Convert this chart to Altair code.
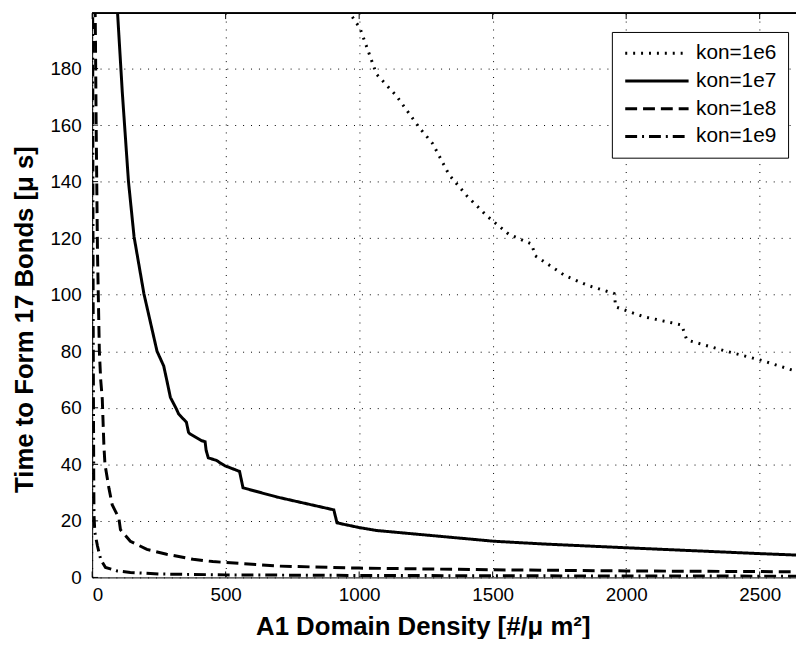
import altair as alt
import pandas as pd

series = ["kon=1e6", "kon=1e7", "kon=1e8", "kon=1e9"]

x_1e6 = [940, 965, 1003, 1065, 1139, 1226, 1275, 1337, 1405, 1479, 1560, 1646, 1659,
         1770, 1856, 1955, 1961, 2066, 2208, 2227, 2375, 2499, 2640]
y_1e6 = [206, 199.6, 194.3, 178, 170.4, 159, 153.5, 142.4, 134.8, 127.8, 121.4, 117.9,
         113.8, 106.8, 103.3, 100.4, 95.7, 92.2, 89.3, 84, 80, 77, 72.8]

x_1e7 = [90, 95, 113, 136, 157, 194, 243, 268, 279, 293, 316, 324, 353, 361, 366, 409,
         423, 427, 435, 465, 497, 552, 565, 694, 769, 905, 917, 997, 1065, 1504, 1696,
         1998, 2505, 2640]
y_1e7 = [207, 200, 171.5, 140.1, 120.5, 100.3, 80, 74.8, 70, 63.7, 59.5, 57.8, 54.9,
         51.3, 50.8, 48.4, 48, 44.9, 42.3, 41.4, 39.5, 37.5, 31.7, 28.4, 26.8, 23.9, 19.3,
         17.7, 16.6, 12.8, 11.8, 10.5, 8.4, 7.9]

x_1e8 = [9, 12, 15, 20, 27, 32, 38, 44, 48, 63, 75, 100, 106, 143, 205, 279, 378, 452,
         700, 1000, 1500, 2000, 2640]
y_1e8 = [215, 195, 160, 115, 80, 70, 63, 46.7, 40, 31.5, 25.7, 21, 16.9, 12.8, 9.9, 8.2,
         6.4, 5.6, 4.0, 3.3, 2.7, 2.3, 2.0]

x_1e9 = [1.5, 2, 3, 4, 5, 6, 7, 10, 20, 32, 50, 94, 143, 254, 500, 1000, 1500, 2000, 2640]
y_1e9 = [215, 200, 130, 90, 60, 35, 22, 16, 11.1, 6.4, 3.5, 2.3, 1.75, 1.2, 0.9, 0.7,
         0.6, 0.5, 0.45]

x_ticks = [0, 500, 1000, 1500, 2000, 2500]
y_ticks = [0, 20, 40, 60, 80, 100, 120, 140, 160, 180]

rows = []
for name, xs, ys in [(series[0], x_1e6, y_1e6), (series[1], x_1e7, y_1e7),
                     (series[2], x_1e8, y_1e8), (series[3], x_1e9, y_1e9)]:
    for i, (a, b) in enumerate(zip(xs, ys)):
        rows.append({"series": name, "x": a, "y": b, "order": i})
df = pd.DataFrame(rows)

W, H = 711, 570
XMAX, YMAX = 2636, 199.6

xscale = alt.Scale(domain=[0, XMAX], nice=False, zero=False)
yscale = alt.Scale(domain=[0, YMAX], nice=False, zero=False)

lines = alt.Chart(df).mark_line(color="black", strokeWidth=3, clip=True, strokeCap="butt").encode(
    x=alt.X("x:Q", scale=xscale,
            axis=alt.Axis(values=x_ticks, format="d",
                          title="A1 Domain Density [#/\u03bc m\u00b2]",
                          titleX=334, titleY=58, titleAlign="center", titleFontSize=26,
                          titleBaseline="alphabetic", labelPadding=8)),
    y=alt.Y("y:Q", scale=yscale,
            axis=alt.Axis(values=y_ticks, format="d",
                          title="Time to Form 17 Bonds [\u03bc s]",
                          titleX=-60, titleY=309, titleAngle=270, titleAlign="center",
                          titleFontSize=26, titleBaseline="alphabetic", labelPadding=11)),
    strokeDash=alt.StrokeDash(
        "series:N",
        scale=alt.Scale(domain=series, range=[[2, 6], [1, 0], [12, 6], [12, 5, 2, 5]]),
        legend=alt.Legend(title=None, orient="none", legendX=525, legendY=19,
                          symbolType="M -1 0 H 7", symbolSize=256, symbolStrokeWidth=3,
                          symbolStrokeColor="black", symbolFillColor="transparent",
                          labelFontSize=21,
                          labelFont="Liberation Sans", labelColor="black",
                          labelOffset=53, rowPadding=6, padding=11,
                          fillColor="white", strokeColor="black")),
    order="order:Q",
)

tdf_x = pd.DataFrame({"t": x_ticks})
tdf_y = pd.DataFrame({"t": y_ticks})

xt_bottom = alt.Chart(tdf_x).mark_rule(color="black", strokeWidth=1).encode(
    x=alt.X("t:Q", scale=xscale), y=alt.value(H), y2=alt.value(H - 6))
xt_top = alt.Chart(tdf_x).mark_rule(color="black", strokeWidth=1).encode(
    x=alt.X("t:Q", scale=xscale), y=alt.value(0), y2=alt.value(6))
yt_left = alt.Chart(tdf_y).mark_rule(color="black", strokeWidth=1).encode(
    y=alt.Y("t:Q", scale=yscale), x=alt.value(0), x2=alt.value(6))
top_border = alt.Chart(tdf_x).mark_rule(color="black", strokeWidth=1).encode(
    x=alt.value(0), x2=alt.value(W + 2), y=alt.value(0))

chart = alt.layer(lines, xt_bottom, xt_top, yt_left, top_border).properties(
    width=W, height=H,
    autosize=alt.AutoSizeParams(type="none"),
    padding={"left": 85, "top": 2, "right": 0, "bottom": 59},
    background="white",
).configure_view(stroke=None).configure_axis(
    grid=True, gridColor="black", gridDash=[1, 7], gridOpacity=1, gridWidth=1,
    domain=True, domainColor="black", domainWidth=1,
    ticks=False, tickSize=0,
    labelFont="Liberation Sans", labelFontSize=19, labelColor="black",
    titleFont="Liberation Sans", titleFontWeight="bold", titleColor="black",
)

chart.save("out.html", embed_options={"renderer": "svg", "actions": False})
